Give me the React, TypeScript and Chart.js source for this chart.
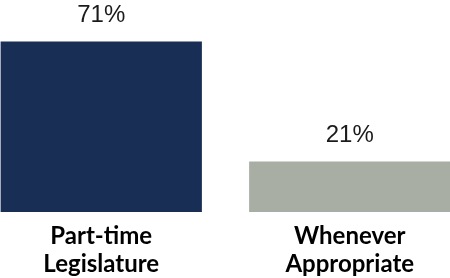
import React, { useEffect, useRef } from "react";
import { Chart, registerables } from "chart.js";

Chart.register(...registerables);

const categories: string[][] = [["Part-time", "Legislature"], ["Whenever", "Appropriate"]];
const values: number[] = [71, 21];
const valueLabels: string[] = ["71%", "21%"];
const barColors: string[] = ["#192e55", "#a9aea4"];

const valueLabelPlugin = {
  id: "valueLabels",
  afterDatasetsDraw(chart: any) {
    const ctx = chart.ctx;
    const meta = chart.getDatasetMeta(0);
    ctx.save();
    ctx.font = "24px 'Liberation Sans', Arial, sans-serif";
    ctx.fillStyle = "#1a1a1a";
    ctx.textAlign = "center";
    ctx.textBaseline = "middle";
    meta.data.forEach((bar: any, i: number) => {
      ctx.fillText(valueLabels[i], bar.x, bar.y - 26);
    });
    ctx.restore();
  },
};

export default function App() {
  const ref = useRef<HTMLCanvasElement | null>(null);
  useEffect(() => {
    if (!ref.current) return;
    const chart = new Chart(ref.current, {
      type: "bar",
      data: {
        labels: categories,
        datasets: [
          {
            data: values,
            backgroundColor: barColors,
            borderWidth: 0,
            barPercentage: 0.81,
            categoryPercentage: 1,
          },
        ],
      },
      options: {
        animation: false,
        responsive: false,
        maintainAspectRatio: false,
        layout: { padding: { top: 20, bottom: -10, left: 0, right: 0 } },
        plugins: { legend: { display: false }, tooltip: { enabled: false } },
        scales: {
          x: {
            grid: { display: false, drawTicks: false },
            border: { display: false },
            ticks: {
              color: "#000",
              padding: 10,
              maxRotation: 0,
              autoSkip: false,
              font: { family: "Lato, 'Open Sans', sans-serif", size: 24, weight: "bold", lineHeight: "28px" } as any,
            },
          },
          y: {
            display: false,
            min: 0,
            max: 80,
          },
        },
      },
      plugins: [valueLabelPlugin],
    });
    return () => chart.destroy();
  }, []);
  return (
    <div style={{ position: "fixed", left: 0, top: 0, width: 450, height: 278, overflow: "hidden", background: "#fff" }}>
      <canvas ref={ref} width={497} height={278} style={{ position: "absolute", left: -23, top: 0, width: 497, height: 278 }} />
    </div>
  );
}
